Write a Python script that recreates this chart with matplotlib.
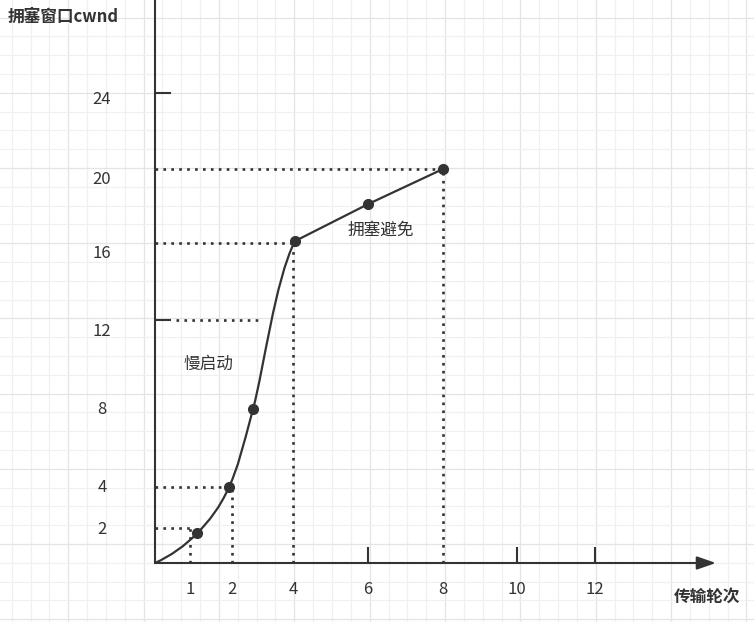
import numpy as np
import matplotlib
matplotlib.use('Agg')
import matplotlib.pyplot as plt
from matplotlib.path import Path
from matplotlib.patches import PathPatch

plt.rcParams['font.family'] = ['Noto Sans CJK SC', 'DejaVu Sans']

# datos
x_labels = [1, 2, 4, 6, 8, 10, 12]
y_labels = [2, 4, 8, 12, 16, 20, 24]
x_marcas = [6, 10, 12]
y_marcas = [12, 24]

# arranque lento (curva) y evitacion de congestion (recta)
lento_x = [0, 1.17, 1.93, 2.69, 4.05]
lento_y = [0, 1.7, 4, 8, 16.1]
evit_x = [4.05, 6, 8]
evit_y = [16.1, 18.1, 20]

# lineas punteadas de referencia: (x, y) hasta los ejes
guias = [(1, 2), (2, 4), (4, 16), (8, 20)]
guia_12 = (0.6, 3, 12)

# calibracion de los ejes (valor -> pixel), el dibujo no es lineal
W, H = 754, 622
kx_val = [0, 1, 2, 4, 6, 8, 10, 12]
kx_pix = [155, 190, 232, 293, 368, 443, 517, 595]
ky_val = [0, 2, 4, 8, 12, 16, 20, 24]
ky_pix = [563, 528, 487, 409, 320, 243, 169, 93]
y_nudge = [2, 1, 0, 11, 10, 10, 7]
X_FIN = 15.1
COLOR = '#333333'
FS = 12


def escala(vals, pix):
    vals = np.asarray(vals, float)
    pix = np.asarray(pix, float)
    s_lo = (pix[1] - pix[0]) / (vals[1] - vals[0])
    s_hi = (pix[-1] - pix[-2]) / (vals[-1] - vals[-2])

    def ida(v):
        v = np.asarray(v, dtype=float)
        f = v.ravel()
        o = np.interp(f, vals, pix)
        o = np.where(f < vals[0], pix[0] + (f - vals[0]) * s_lo, o)
        o = np.where(f > vals[-1], pix[-1] + (f - vals[-1]) * s_hi, o)
        return o.reshape(v.shape)

    def vuelta(p):
        p = np.asarray(p, dtype=float)
        f = p.ravel()
        o = np.interp(f, pix, vals)
        o = np.where(f < pix[0], vals[0] + (f - pix[0]) / s_lo, o)
        o = np.where(f > pix[-1], vals[-1] + (f - pix[-1]) / s_hi, o)
        return o.reshape(p.shape)
    return ida, vuelta


fx, fx_inv = escala(kx_val, kx_pix)
fy, fy_inv = escala(ky_val, [H - p for p in ky_pix])

fig = plt.figure(figsize=(W / 100, H / 100), dpi=100)

# fondo cuadriculado
bg = fig.add_axes([0, 0, 1, 1])
bg.set_xlim(0, W)
bg.set_ylim(H, 0)
bg.axis('off')
paso = 18.84
for i in range(42):
    x = 11.7 + i * paso
    bg.axvline(x, color='#e4e4e4' if (i - 3) % 4 == 0 else '#f0f0f0', lw=0.9)
for j in range(34):
    y = 17.5 + j * 18.8
    bg.axhline(y, color='#e4e4e4' if (j - 4) % 4 == 0 else '#f0f0f0', lw=0.9)

ax = fig.add_axes([0, 0, 1, 1])
ax.patch.set_alpha(0)
ax.set_xscale('function', functions=(fx, fx_inv))
ax.set_yscale('function', functions=(fy, fy_inv))
ax.set_xlim(float(fx_inv(0.0)), float(fx_inv(float(W))))
ax.set_ylim(float(fy_inv(0.0)), float(fy_inv(float(H))))

for s in ['top', 'right', 'bottom']:
    ax.spines[s].set_visible(False)
ax.spines['left'].set_position(('data', 0))
ax.spines['bottom'].set_position(('data', 0))
ax.spines['left'].set_bounds(0, ax.get_ylim()[1])
ax.spines['left'].set_linewidth(1.5)
ax.spines['left'].set_color(COLOR)

ax.set_xticks(x_marcas)
ax.set_yticks(y_marcas)
ax.xaxis.set_minor_locator(matplotlib.ticker.NullLocator())
ax.yaxis.set_minor_locator(matplotlib.ticker.NullLocator())
ax.tick_params(axis='x', direction='in', length=11.5, width=1.5, color=COLOR,
               labelbottom=False)
ax.tick_params(axis='y', direction='in', length=11.5, width=1.5, color=COLOR,
               labelleft=False)

# eje x con flecha
ax.annotate('', xy=(X_FIN, 0), xytext=(0, 0),
            arrowprops=dict(arrowstyle='-|>,head_length=1.15,head_width=0.4',
                            lw=1.5, color=COLOR, shrinkA=0, shrinkB=0,
                            mutation_scale=10))

# guias punteadas
pt = dict(color=COLOR, lw=1.9, linestyle=(0, (1, 2)))
for gx, gy in guias:
    ax.plot([0, gx], [gy, gy], **pt)
    ax.plot([gx, gx], [0, gy], **pt)
ax.plot([guia_12[0], guia_12[1]], [guia_12[2], guia_12[2]], **pt)

# curva suave (Catmull-Rom) del arranque lento, en espacio de pixeles
P = np.column_stack([fx(np.array(lento_x)), fy(np.array(lento_y))])
n = len(P)
T = np.zeros_like(P)
for i in range(1, n - 1):
    T[i] = (P[i + 1] - P[i - 1]) / 2
T[0] = 2 * (P[1] - P[0]) - T[1]
T[-1] = np.array([60.0, 120.0])
verts = [P[0]]
codes = [Path.MOVETO]
for i in range(n - 1):
    verts += [P[i] + T[i] / 3, P[i + 1] - T[i + 1] / 3, P[i + 1]]
    codes += [Path.CURVE4] * 3
verts = np.array(verts)
verts = np.column_stack([fx_inv(verts[:, 0]), fy_inv(verts[:, 1])])
ax.add_patch(PathPatch(Path(verts, codes), fill=False, lw=1.6, ec=COLOR,
                       transform=ax.transData))

ax.plot(evit_x, evit_y, color=COLOR, lw=1.6)
ax.plot(lento_x[1:], lento_y[1:], 'o', color=COLOR, ms=7)
ax.plot(evit_x[1:], evit_y[1:], 'o', color=COLOR, ms=7)

# etiquetas de los ejes
for v in x_labels:
    ax.annotate(str(v), xy=(v, 0), xytext=(0, -27), textcoords='offset pixels',
                ha='center', va='center', fontsize=FS, color=COLOR)
for v, d in zip(y_labels, y_nudge):
    ax.annotate(str(v), xy=(0, v), xytext=(-53, -d), textcoords='offset pixels',
                ha='center', va='center', fontsize=FS, color=COLOR)

ax.text(1.43, 10.0, '慢启动', ha='center', va='center', fontsize=FS, color=COLOR)
ax.text(6.35, 16.7, '拥塞避免', ha='center', va='center', fontsize=FS, color=COLOR)

fig.text(8 / W, 1 - 17 / H, '拥塞窗口cwnd', ha='left', va='center',
         fontsize=FS, fontweight='bold', color=COLOR)
fig.text(707 / W, 1 - 597 / H, '传输轮次', ha='center', va='center',
         fontsize=FS, fontweight='bold', color=COLOR)

fig.savefig('out.png', dpi=100)
